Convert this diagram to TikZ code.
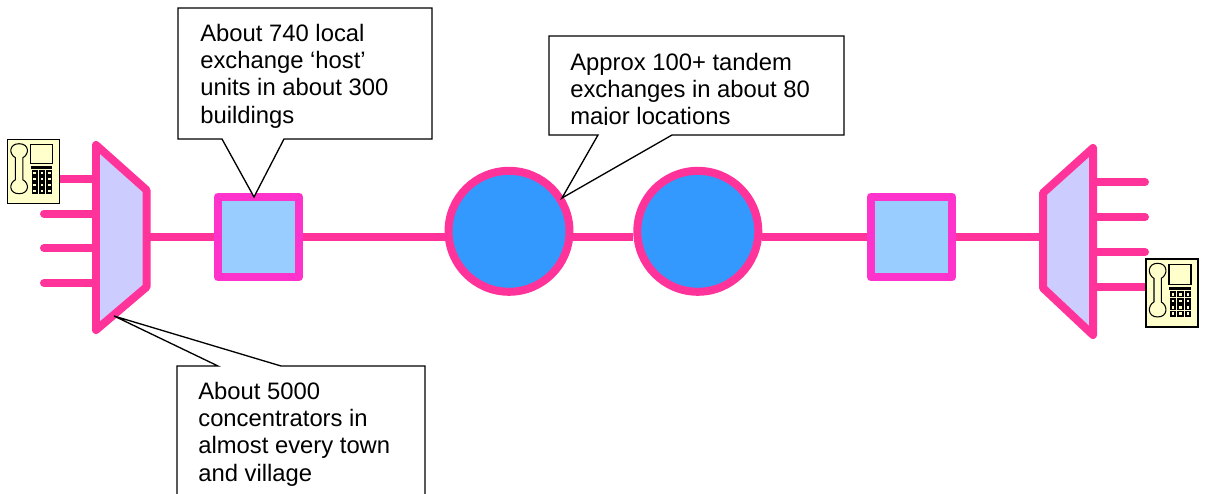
\documentclass[tikz,border=0pt]{standalone}
\usepackage{fontspec}
\setmainfont{Liberation Sans}
\definecolor{pinkline}{HTML}{FF3399}
\definecolor{magline}{HTML}{FF33CC}
\definecolor{concfill}{HTML}{CCCCFF}
\definecolor{hostfill}{HTML}{99CCFF}
\definecolor{tandemfill}{HTML}{3399FF}
\definecolor{phonefill}{HTML}{FFFFCC}
\newcommand{\drawphone}[2]{%
	\begin{scope}[shift={(#1.north west)}, x=0.00667cm, y=#2, line width=0.6pt]
		\draw (26,56) .. controls (6,46) and (6,14) .. (37,14) .. controls (68,14) and (68,46) .. (48,56)
			-- (48,122) .. controls (68,132) and (68,164) .. (37,164) .. controls (6,164) and (6,132) .. (26,122) -- cycle;
		\draw (71,16) rectangle (137,74);
		\fill (72,81) rectangle (137,89);
		\foreach \c in {0,1,2} {
			\foreach \r in {0,1,2,3} {
				\draw[line width=1pt, fill=phonefill] (77+22*\c,95+18*\r) rectangle +(13,12);
			}}
	\end{scope}}
\begin{document}
\begin{tikzpicture}[x=0.02cm, y=-0.02cm,
		lead/.style={pinkline, line width=0.16cm, line cap=round},
		link/.style={pinkline, line width=0.16cm},
		conc/.style={draw=pinkline, fill=concfill, line width=0.16cm, line join=round},
		host/.style={rectangle, draw=magline, fill=hostfill, line width=0.16cm, line join=round, minimum size=1.62cm, inner sep=0pt},
		tandem/.style={circle, draw=pinkline, fill=tandemfill, line width=0.16cm, minimum size=2.42cm, inner sep=0pt},
		phone/.style={rectangle, draw=black, fill=phonefill, line width=0.8pt, inner sep=0pt},
		callout/.style={draw=black, fill=white, line width=0.75pt, line join=miter},
		note/.style={anchor=north west, inner sep=0pt, align=left, font=\fontsize{13.55}{15.6}\selectfont}]
	\clip (0,0) rectangle (1205,494);
	% exchanges
	\node[host] (host1) at (258.5,237) {};
	\node[host] (host2) at (911.5,237) {};
	\node[tandem] (tandem1) at (509,231.3) {};
	\node[tandem] (tandem2) at (697.8,231.3) {};
	% concentrators
	\coordinate (concL1) at (96,145);
	\coordinate (concL2) at (146.5,190);
	\coordinate (concL3) at (146.5,287);
	\coordinate (concL4) at (96,330);
	\coordinate (concLe) at (146.5,237);
	\coordinate (concR1) at (1093,148);
	\coordinate (concR2) at (1043,193);
	\coordinate (concR3) at (1043,288);
	\coordinate (concR4) at (1093,335);
	\coordinate (concRw) at (1043,237);
	\foreach \n/\y in {1/179,2/213.5,3/248,4/283} {
		\coordinate (inL\n) at (44,\y);
		\coordinate (edgeL\n) at (96,\y);
		\draw[lead] (inL\n) -- (edgeL\n);
	}
	\foreach \n/\y in {1/182,2/217,3/252,4/287} {
		\coordinate (inR\n) at (1145,\y);
		\coordinate (edgeR\n) at (1093,\y);
		\draw[lead] (inR\n) -- (edgeR\n);
	}
	\draw[conc] (concL1) -- (concL2) -- (concL3) -- (concL4) -- cycle;
	\draw[conc] (concR1) -- (concR2) -- (concR3) -- (concR4) -- cycle;
	% links
	\draw[link] (concLe) -- (host1.west);
	\draw[link] (host1.east) -- (host1.east -| tandem1.west);
	\draw[link] (host1.east -| tandem1.east) -- (host1.east -| tandem2.west);
	\draw[link] (host1.east -| tandem2.east) -- (host2.west);
	\draw[link] (host2.east) -- (concRw);
	% telephones
	\node[phone, minimum width=1.04cm, minimum height=1.27cm] (phoneL) at (33.5,171.5) {};
	\node[phone, minimum width=1.04cm, minimum height=1.36cm] (phoneR) at (1172,293) {};
	\drawphone{phoneL}{-0.00667cm}
	\drawphone{phoneR}{-0.00716cm}
	% callouts
	\coordinate (tipA) at (254,197);
	\coordinate (tipB) at (562,198);
	\coordinate (tipC) at (114,316);
	\draw[callout] (178,8) -- (432,8) -- (432,139) -- (284,139) -- (tipA) -- (222,139) -- (178,139) -- cycle;
	\draw[callout] (549,36) -- (844,36) -- (844,135) -- (672,135) -- (tipB) -- (598,135) -- (549,135) -- cycle;
	\draw[callout] (177,366) -- (218,366) -- (tipC) -- (281,366) -- (425,366) -- (425,510) -- (177,510) -- cycle;
	\node[note] (noteA) at (200,23.5) {About 740 local\\exchange ‘host’\\units in about 300\\buildings};
	\begin{scope}
		\clip (549,36) rectangle (844,124.5);
		\node[note] (noteB) at (570,52.5) {Approx 100+ tandem\\exchanges in about 80\\major locations};
	\end{scope}
	\node[note] (noteC) at (198,381.5) {About 5000\\concentrators in\\almost every town\\and village};
\end{tikzpicture}
\end{document}
